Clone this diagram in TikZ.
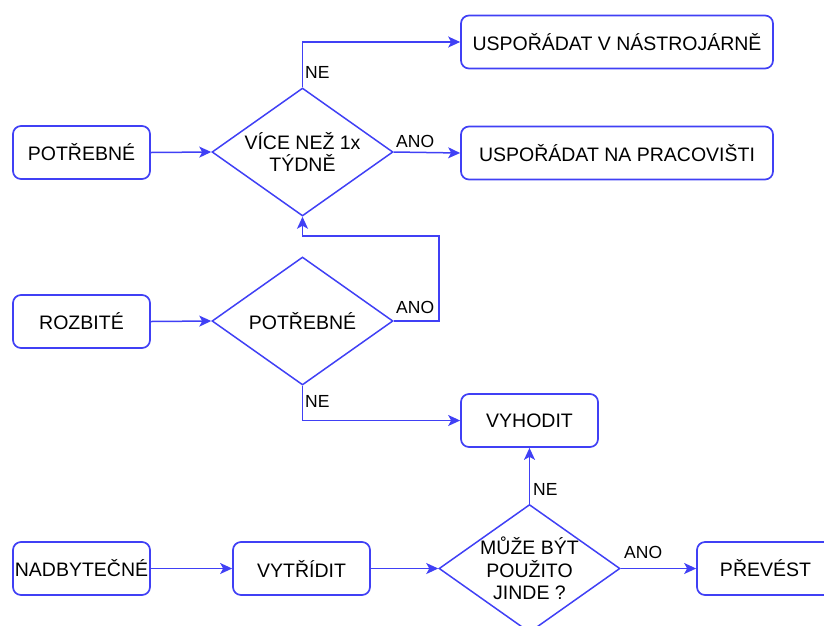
\documentclass[tikz,border=0pt]{standalone}
\usepackage{fontspec}
\setmainfont{Liberation Sans}
\usetikzlibrary{shapes.geometric,arrows.meta}
\definecolor{fc}{RGB}{64,64,245}
\tikzset{
  box/.style={draw=fc, line width=1.7pt, rounded corners=8pt, rectangle, inner sep=0pt,
    minimum width=137pt, minimum height=53pt, font=\fontsize{19.5}{23}\selectfont},
  widebox/.style={box, minimum width=312pt},
  dia/.style={draw=fc, line width=1.5pt, diamond, inner sep=0pt, minimum width=181pt, minimum height=128pt},
  diatext/.style={align=center, inner sep=0pt, font=\fontsize{19.5}{22.5}\selectfont},
  lbl/.style={inner sep=0pt, anchor=base west, font=\fontsize{17.5}{20}\selectfont},
  conn/.style={draw=fc, line width=1.5pt, -{Stealth[length=12pt,width=11pt,inset=3pt]}}
}
\begin{document}
\begin{tikzpicture}[x=1pt,y=-1pt]
\useasboundingbox (0,0) rectangle (824,625);
% row 1
\node[box] (potr) at (81.5,152.5) {POTŘEBNÉ};
\node[dia] (d1) at (302.5,152) {};
\node[diatext] (d1t) at (d1.center) {VÍCE NEŽ 1x\\TÝDNĚ};
\node[widebox] (nast) at (617,42) {USPOŘÁDAT V NÁSTROJÁRNĚ};
\node[widebox] (prac) at (617,153) {USPOŘÁDAT NA PRACOVIŠTI};
% row 2
\node[box] (rozb) at (81.5,321.5) {ROZBITÉ};
\node[dia] (d2) at (302.5,321) {};
\node[diatext] (d2t) at (d2.center) {POTŘEBNÉ};
\node[box] (vyh) at (529.5,420.5) {VYHODIT};
% row 3
\node[box] (nadb) at (81.5,568.5) {NADBYTEČNÉ};
\node[box] (vytr) at (301.5,568.5) {VYTŘÍDIT};
\node[dia] (d3) at (529.5,568.5) {};
\node[diatext] (d3t) at (d3.center) {MŮŽE BÝT\\POUŽITO\\JINDE ?};
\node[box] (prev) at (765.5,568.5) {PŘEVÉST};
% coordinates
\coordinate (c1) at (302.5,42);
\coordinate (c2) at (439,321);
\coordinate (c3) at (439,236);
\coordinate (c4) at (302.5,236);
\coordinate (c5) at (302.5,420.5);
% connectors
\draw[conn] (potr.east) -- (d1.west);
\draw[conn] (d1.north) -- (c1) -- (nast.west);
\draw[conn] (d1.east) -- (prac.west);
\draw[conn] (rozb.east) -- (d2.west);
\draw[conn] (d2.east) -- (c2) -- (c3) -- (c4) -- (d1.south);
\draw[conn] (d2.south) -- (c5) -- (vyh.west);
\draw[conn] (nadb.east) -- (vytr.west);
\draw[conn] (vytr.east) -- (d3.west);
\draw[conn] (d3.north) -- (vyh.south);
\draw[conn] (d3.east) -- (prev.west);
% labels
\node[lbl] (l1) at (305,78) {NE};
\node[lbl] (l2) at (396,147) {ANO};
\node[lbl] (l3) at (396,313) {ANO};
\node[lbl] (l4) at (305,407) {NE};
\node[lbl] (l5) at (533,495) {NE};
\node[lbl] (l6) at (624,558) {ANO};
\end{tikzpicture}
\end{document}
